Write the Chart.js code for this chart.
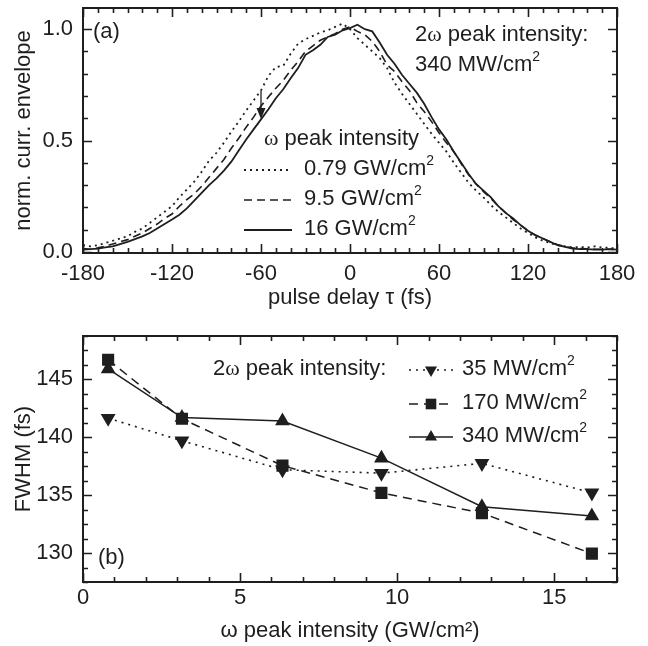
<!DOCTYPE html>
<html>
<head>
<meta charset="utf-8">
<script src="https://cdn.jsdelivr.net/npm/chart.js@4.4.1/dist/chart.umd.min.js"></script>
<style>
  html, body { margin: 0; padding: 0; background: #fff; }
  #wrap { position: relative; width: 648px; height: 646px; }
  canvas { position: absolute; left: 0; }
  #top { top: 0; }
  #bot { top: 320px; }
</style>
</head>
<body>
<div id="wrap">
  <canvas id="top" width="648" height="320"></canvas>
  <canvas id="bot" width="648" height="326"></canvas>
</div>
<script>
// (a) envelope vs pulse delay
const delays = [-180, -175, -170, -165, -160, -155, -150, -145, -140, -135, -130, -125, -120, -115, -110, -105,
  -100, -95, -90, -85, -80, -75, -70, -65, -60, -55, -50, -45, -40, -35, -30, -25, -20, -15, -10, -5,
  0, 5, 10, 15, 20, 25, 30, 35, 40, 45, 50, 55, 60, 65, 70, 75, 80, 85, 90, 95,
  100, 105, 110, 115, 120, 125, 130, 135, 140, 145, 150, 155, 160, 165, 170, 175, 180];
const env079 = [0.03, 0.025, 0.03, 0.04, 0.05, 0.06, 0.07, 0.09, 0.105, 0.13, 0.155, 0.18, 0.205, 0.245, 0.28, 0.315,
  0.36, 0.41, 0.445, 0.49, 0.54, 0.585, 0.635, 0.68, 0.725, 0.79, 0.83, 0.835, 0.89, 0.935, 0.955, 0.97, 0.985, 0.995, 1.01, 1.025,
  1.0, 0.96, 0.93, 0.9, 0.87, 0.825, 0.76, 0.71, 0.665, 0.62, 0.575, 0.53, 0.49, 0.45, 0.4, 0.355, 0.31, 0.275, 0.245, 0.21,
  0.18, 0.155, 0.13, 0.105, 0.085, 0.065, 0.05, 0.04, 0.03, 0.025, 0.02, 0.022, 0.02, 0.025, 0.02, 0.018, 0.015];
const env95 = [0.015, 0.012, 0.018, 0.025, 0.035, 0.045, 0.055, 0.07, 0.085, 0.105, 0.125, 0.15, 0.17, 0.205, 0.235, 0.26,
  0.295, 0.335, 0.375, 0.415, 0.465, 0.51, 0.56, 0.605, 0.655, 0.695, 0.735, 0.77, 0.815, 0.855, 0.9, 0.925, 0.95, 0.965, 0.98, 1.0,
  1.01, 0.99, 0.975, 0.945, 0.9, 0.84, 0.81, 0.765, 0.725, 0.67, 0.63, 0.585, 0.535, 0.49, 0.45, 0.395, 0.345, 0.305, 0.27, 0.24,
  0.205, 0.175, 0.145, 0.12, 0.095, 0.075, 0.06, 0.045, 0.032, 0.024, 0.018, 0.015, 0.014, 0.012, 0.012, 0.012, 0.01];
const env16 = [0.01, 0.012, 0.015, 0.02, 0.025, 0.035, 0.045, 0.057, 0.07, 0.085, 0.105, 0.125, 0.145, 0.167, 0.195, 0.23,
  0.265, 0.3, 0.33, 0.365, 0.405, 0.455, 0.505, 0.55, 0.595, 0.64, 0.69, 0.73, 0.78, 0.825, 0.885, 0.905, 0.93, 0.965, 0.975, 0.995,
  1.005, 1.02, 1.0, 0.99, 0.94, 0.885, 0.845, 0.795, 0.755, 0.715, 0.665, 0.605, 0.55, 0.505, 0.45, 0.4, 0.35, 0.305, 0.275, 0.245,
  0.205, 0.175, 0.15, 0.12, 0.095, 0.075, 0.06, 0.045, 0.03, 0.022, 0.015, 0.012, 0.012, 0.01, 0.01, 0.012, 0.01];
const topXTicks = [-180, -120, -60, 0, 60, 120, 180];
const topYTicks = [0, 0.5, 1.0];

// (b) FWHM vs omega peak intensity
const intensities = [0.8, 3.15, 6.35, 9.5, 12.7, 16.2];
const fwhm35 = [141.65, 139.7, 137.2, 136.9, 137.75, 135.2];
const fwhm170 = [146.7, 141.6, 137.55, 135.2, 133.45, 129.95];
const fwhm340 = [145.9, 141.7, 141.4, 138.2, 134.0, 133.2];
const botXTicks = [0, 5, 10, 15];
const botYTicks = [130, 135, 140, 145];

const INK = '#1e1e1e';
const SANS = '"Liberation Sans", Arial, sans-serif';
const SERIF = '"Liberation Serif", "Times New Roman", serif';
const F = '22px ' + SANS;
const FW = '22px ' + SERIF;
const SUP = '14px ' + SANS;

function richText(ctx, x, y, parts) {
  ctx.textBaseline = 'middle';
  ctx.textAlign = 'left';
  ctx.fillStyle = INK;
  let cx = x;
  parts.forEach(([t, f, dy]) => {
    ctx.font = f;
    ctx.fillText(t, cx, y + (dy || 0));
    cx += ctx.measureText(t).width;
  });
}

function sampleLine(ctx, x1, x2, y, dash, width) {
  ctx.save();
  ctx.strokeStyle = INK;
  ctx.lineWidth = width;
  ctx.setLineDash(dash);
  ctx.beginPath();
  ctx.moveTo(x1, y);
  ctx.lineTo(x2, y);
  ctx.stroke();
  ctx.restore();
}

function marker(ctx, style, x, y, r, down) {
  ctx.save();
  ctx.fillStyle = INK;
  ctx.beginPath();
  if (style === 'rect') {
    const s = r * Math.SQRT1_2;
    ctx.rect(x - s, y - s, 2 * s, 2 * s);
  } else {
    const k = down ? -1 : 1;
    ctx.moveTo(x, y - k * r);
    ctx.lineTo(x + r * 0.866, y + k * r * 0.5);
    ctx.lineTo(x - r * 0.866, y + k * r * 0.5);
    ctx.closePath();
  }
  ctx.fill();
  ctx.restore();
}

// frame with inward ticks on all four sides
function frameTicks(xMajor, yMajor, xMinor, yMinor) {
  return {
    id: 'frameTicks',
    afterDatasetsDraw(chart) {
      const { ctx, chartArea: a, scales: { x, y } } = chart;
      ctx.save();
      ctx.strokeStyle = INK;
      ctx.lineWidth = 1.6;
      ctx.beginPath();
      for (let i = 0; i <= xMinor.n; i++) {
        const v = xMinor.start + i * xMinor.step;
        const px = Math.round(x.getPixelForValue(v)) + 0.5;
        const len = xMajor.some(m => Math.abs(m - v) < 1e-6) ? 9 : 5;
        ctx.moveTo(px, a.bottom); ctx.lineTo(px, a.bottom - len);
        ctx.moveTo(px, a.top); ctx.lineTo(px, a.top + len);
      }
      for (let i = 0; i <= yMinor.n; i++) {
        const v = yMinor.start + i * yMinor.step;
        const py = Math.round(y.getPixelForValue(v)) + 0.5;
        const len = yMajor.some(m => Math.abs(m - v) < 1e-6) ? 9 : 5;
        ctx.moveTo(a.left, py); ctx.lineTo(a.left + len, py);
        ctx.moveTo(a.right, py); ctx.lineTo(a.right - len, py);
      }
      ctx.stroke();
      ctx.lineWidth = 2;
      ctx.strokeRect(a.left, a.top, a.right - a.left, a.bottom - a.top);
      ctx.restore();
    }
  };
}

const topNotes = {
  id: 'topNotes',
  afterDraw(chart) {
    const { ctx, scales: { x, y } } = chart;
    richText(ctx, 93, 32, [['(a)', F]]);
    richText(ctx, 415, 35, [['2', F], ['\u03c9', FW], [' peak intensity:', F]]);
    richText(ctx, 415, 65, [['340 MW/cm', F], ['2', SUP, -8]]);
    richText(ctx, 264, 139, [['\u03c9', FW], [' peak intensity', F]]);
    richText(ctx, 304, 169, [['0.79 GW/cm', F], ['2', SUP, -8]]);
    richText(ctx, 304, 199, [['9.5 GW/cm', F], ['2', SUP, -8]]);
    richText(ctx, 304, 229, [['16 GW/cm', F], ['2', SUP, -8]]);
    sampleLine(ctx, 244, 292, 170, [2, 4], 1.8);
    sampleLine(ctx, 244, 292, 200, [8, 5], 1.6);
    sampleLine(ctx, 244, 292, 230, [], 1.8);
    // arrow at -60 fs
    const ax = x.getPixelForValue(-60);
    const y1 = y.getPixelForValue(0.725);
    const y2 = y.getPixelForValue(0.597);
    ctx.save();
    ctx.strokeStyle = INK;
    ctx.fillStyle = INK;
    ctx.lineWidth = 1.3;
    ctx.beginPath();
    ctx.moveTo(ax, y1); ctx.lineTo(ax, y2 - 8);
    ctx.stroke();
    ctx.beginPath();
    ctx.moveTo(ax, y2); ctx.lineTo(ax - 4.5, y2 - 11); ctx.lineTo(ax + 4.5, y2 - 11);
    ctx.closePath();
    ctx.fill();
    ctx.restore();
  }
};

const botNotes = {
  id: 'botNotes',
  afterDraw(chart) {
    const { ctx } = chart;
    // canvas offset: this canvas starts at page y = 320
    richText(ctx, 98, 558 - 320, [['(b)', F]]);
    richText(ctx, 213, 369 - 320, [['2', F], ['\u03c9', FW], [' peak intensity:', F]]);
    richText(ctx, 462, 369 - 320, [['35 MW/cm', F], ['2', SUP, -8]]);
    richText(ctx, 462, 403 - 320, [['170 MW/cm', F], ['2', SUP, -8]]);
    richText(ctx, 462, 436 - 320, [['340 MW/cm', F], ['2', SUP, -8]]);
    sampleLine(ctx, 409, 453, 370 - 320, [2, 5], 1.6);
    sampleLine(ctx, 409, 453, 404 - 320, [9, 6], 1.5);
    sampleLine(ctx, 409, 453, 437 - 320, [], 1.5);
    marker(ctx, 'triangle', 431, 370 - 320, 7, true);
    marker(ctx, 'rect', 431, 404 - 320, 7.5, false);
    marker(ctx, 'triangle', 431, 437 - 320, 7, false);
  }
};

const tickFont = { family: SANS, size: 22 };
// fixed axis box sizes, no extra label overflow padding
const fixX = h => s => { s.height = h; s.paddingLeft = 0; s.paddingRight = 0; };
const fixY = w => s => { s.width = w; s.paddingTop = 0; s.paddingBottom = 0; };
const ax = (extra) => Object.assign({
  type: 'linear',
  grid: { display: false, drawTicks: false },
  border: { display: false }
}, extra);

new Chart(document.getElementById('top'), {
  type: 'line',
  data: {
    datasets: [
      { label: '0.79 GW/cm2', data: delays.map((t, i) => ({ x: t, y: env079[i] })), borderDash: [2, 4], borderWidth: 1.8 },
      { label: '9.5 GW/cm2', data: delays.map((t, i) => ({ x: t, y: env95[i] })), borderDash: [8, 5], borderWidth: 1.6 },
      { label: '16 GW/cm2', data: delays.map((t, i) => ({ x: t, y: env16[i] })), borderWidth: 1.8 }
    ]
  },
  options: {
    responsive: false,
    animation: false,
    layout: { padding: { top: 8, right: 31, left: 0, bottom: 0 } },
    plugins: { legend: { display: false }, tooltip: { enabled: false } },
    elements: { point: { radius: 0 }, line: { tension: 0, borderColor: INK, fill: false } },
    scales: {
      x: ax({
        min: -180, max: 180,
        afterBuildTicks: s => { s.ticks = topXTicks.map(v => ({ value: v })); },
        afterFit: fixX(67),
        ticks: { font: tickFont, color: INK, padding: 8, maxRotation: 0, autoSkip: false },
        title: { display: true, text: 'pulse delay \u03c4 (fs)', font: tickFont, color: INK, padding: { top: 0, bottom: 9 } }
      }),
      y: ax({
        min: -0.005, max: 1.095,
        afterBuildTicks: s => { s.ticks = topYTicks.map(v => ({ value: v })); },
        afterFit: fixY(83),
        ticks: { font: tickFont, color: INK, padding: 10, callback: v => v.toFixed(1) },
        title: { display: true, text: 'norm. curr. envelope', font: tickFont, color: INK, padding: { top: 11, bottom: 0 } }
      })
    }
  },
  plugins: [
    frameTicks(topXTicks, topYTicks, { start: -180, step: 10, n: 36 }, { start: 0, step: 0.1, n: 10 }),
    topNotes
  ]
});

new Chart(document.getElementById('bot'), {
  type: 'line',
  data: {
    datasets: [
      { label: '35 MW/cm2', data: intensities.map((v, i) => ({ x: v, y: fwhm35[i] })), borderDash: [2, 5],
        borderWidth: 1.6, pointStyle: 'triangle', rotation: 180, pointRadius: 7 },
      { label: '170 MW/cm2', data: intensities.map((v, i) => ({ x: v, y: fwhm170[i] })), borderDash: [9, 6],
        borderWidth: 1.5, pointStyle: 'rect', pointRadius: 7.5 },
      { label: '340 MW/cm2', data: intensities.map((v, i) => ({ x: v, y: fwhm340[i] })),
        borderWidth: 1.5, pointStyle: 'triangle', pointRadius: 7 }
    ]
  },
  options: {
    responsive: false,
    animation: false,
    layout: { padding: { top: 16, right: 31, left: 0, bottom: 0 } },
    plugins: { legend: { display: false }, tooltip: { enabled: false } },
    elements: {
      point: { backgroundColor: INK, borderColor: INK, borderWidth: 0 },
      line: { tension: 0, borderColor: INK, fill: false }
    },
    scales: {
      x: ax({
        min: 0, max: 17,
        afterBuildTicks: s => { s.ticks = botXTicks.map(v => ({ value: v })); },
        afterFit: fixX(64),
        ticks: { font: tickFont, color: INK, padding: 3, maxRotation: 0, autoSkip: false },
        title: { display: true, text: '\u03c9 peak intensity (GW/cm\u00b2)', font: tickFont, color: INK, padding: { top: 0, bottom: 2 } }
      }),
      y: ax({
        min: 127.5, max: 148.75,
        afterBuildTicks: s => { s.ticks = botYTicks.map(v => ({ value: v })); },
        afterFit: fixY(83),
        ticks: { font: tickFont, color: INK, padding: 10 },
        title: { display: true, text: 'FWHM (fs)', font: tickFont, color: INK, padding: { top: 11, bottom: 0 } }
      })
    }
  },
  plugins: [
    frameTicks(botXTicks, botYTicks, { start: 0, step: 1, n: 17 }, { start: 127.5, step: 1.25, n: 17 }),
    botNotes
  ]
});
</script>
</body>
</html>
